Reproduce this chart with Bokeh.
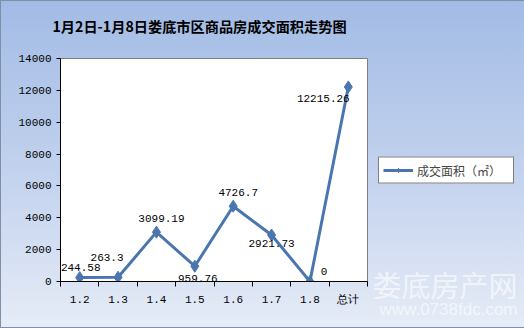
from bokeh.plotting import figure
from bokeh.models import (ColumnDataSource, FixedTicker, LinearAxis, Range1d,
                          Legend, LegendItem, LabelSet, Title)
from bokeh.core.properties import value
from bokeh.embed import file_html
from bokeh.resources import INLINE

# ---- data ----
categories = ["1.2", "1.3", "1.4", "1.5", "1.6", "1.7", "1.8", "总计"]
area = [244.58, 263.3, 3099.19, 959.76, 4726.7, 2921.73, 0, 12215.26]
labels = ["244.58", "263.3", "3099.19", "959.76", "4726.7", "2921.73", "0", "12215.26"]
y_ticks = [0, 2000, 4000, 6000, 8000, 10000, 12000, 14000]
title_text = "1月2日-1月8日娄底市区商品房成交面积走势图"
series_name = "成交面积（㎡）"
watermark_name = "娄底房产网"
watermark_url = "www.0738fdc.com"

# label offsets (style, pixels)
label_dx = [1, -11, 5, 3, 5, 0, 14, -25]
label_dy = [10, 20, 14, -12, 14, -9, 10, -12]

xs = [i + 0.5 for i in range(len(categories))]

src = ColumnDataSource(dict(x=xs, y=area, lab=labels, dx=label_dx, dy=label_dy))

p = figure(frame_width=307, frame_height=223, output_backend="svg", toolbar_location=None,
           x_range=Range1d(0, len(categories)), y_range=Range1d(0, 14000),
           min_border_left=60, min_border_right=157, min_border_top=58,
           min_border_bottom=47, x_axis_type=None, y_axis_type=None)

p.styles = {"background": "linear-gradient(to bottom, #a2bbe5 0%, #c4d3ee 55%, #e6ecf7 100%)",
            "box-shadow": "inset 0 0 0 1px #7f8fa8"}
p.border_fill_alpha = 0
p.background_fill_color = "white"
p.outline_line_color = "#808080"
p.outline_line_width = 1

# title
p.title.text = title_text
p.title.text_font = "Noto Sans CJK SC"
p.title.text_font_style = "bold"
p.title.text_font_size = "14.2px"
p.title.text_color = "#000000"
p.title.align = "left"
p.title.offset = -8
p.title.vertical_align = "bottom"
p.title.standoff = 0
# spacer between title and frame
p.add_layout(Title(text=" ", text_font_size="1px", standoff=20), "above")

mono = "Liberation Mono"

# y axis
yax = LinearAxis(ticker=FixedTicker(ticks=y_ticks))
yax.axis_line_color = "black"
yax.major_tick_line_color = "black"
yax.major_tick_out = 4
yax.major_tick_in = 0
yax.minor_tick_line_color = None
yax.major_label_text_font = mono
yax.major_label_text_font_size = "11px"
yax.major_label_text_color = "black"
yax.major_label_standoff = 5
p.add_layout(yax, "left")

# x axis: labels at centers, tick marks between categories
xax = LinearAxis(ticker=FixedTicker(ticks=xs, minor_ticks=list(range(len(categories) + 1))))
xax.major_label_overrides = {x: c for x, c in zip(xs, categories)}
xax.axis_line_color = "black"
xax.major_tick_line_color = None
xax.minor_tick_line_color = "black"
xax.minor_tick_out = 5
xax.minor_tick_in = 0
xax.major_label_text_font = mono
xax.major_label_text_font_size = "11px"
xax.major_label_text_color = "black"
xax.major_label_standoff = 6
p.add_layout(xax, "below")

p.ygrid.grid_line_color = "#808080"
p.ygrid.ticker = FixedTicker(ticks=y_ticks)
p.xgrid.grid_line_color = None

line = p.line("x", "y", source=src, line_color="#4a76b0", line_width=3)
pts = p.scatter("x", "y", source=src, marker="diamond", size=12,
                fill_color="#4a76b0", line_color="#4a76b0")

ls = LabelSet(x="x", y="y", text="lab", source=src, x_offset="dx", y_offset="dy",
              text_align="center", text_baseline="middle",
              text_font=value(mono), text_font_size="11px", text_color="black")
p.add_layout(ls)

legend = Legend(items=[LegendItem(label=series_name, renderers=[line, pts])],
                location="center_left", orientation="vertical")
legend.border_line_color = "black"
legend.border_line_width = 1
legend.background_fill_color = "white"
legend.background_fill_alpha = 1
legend.label_text_font = "Noto Sans CJK SC"
legend.label_text_font_size = "12px"
legend.label_height = 11
legend.glyph_height = 11
legend.glyph_width = 30
legend.label_width = 92
legend.padding = 4
legend.margin = 11
legend.spacing = 0
legend.label_standoff = 4
p.add_layout(legend, "right")

# watermark, as titles below the x axis, pushed to the right
wm_url = Title(text=watermark_url, align="right", offset=-150, vertical_align="top",
               standoff=-18, text_font="Liberation Sans", text_font_size="17px",
               text_font_style="normal", text_color="white", text_alpha=0.6)
wm_name = Title(text=watermark_name, align="right", offset=-150, vertical_align="top",
                standoff=-98, text_font="Noto Sans CJK SC", text_font_size="29px",
                text_font_style="normal", text_color="white", text_alpha=0.6)
p.add_layout(wm_url, "below")
p.add_layout(wm_name, "below")

open("out.html", "w").write(file_html(p, INLINE))
